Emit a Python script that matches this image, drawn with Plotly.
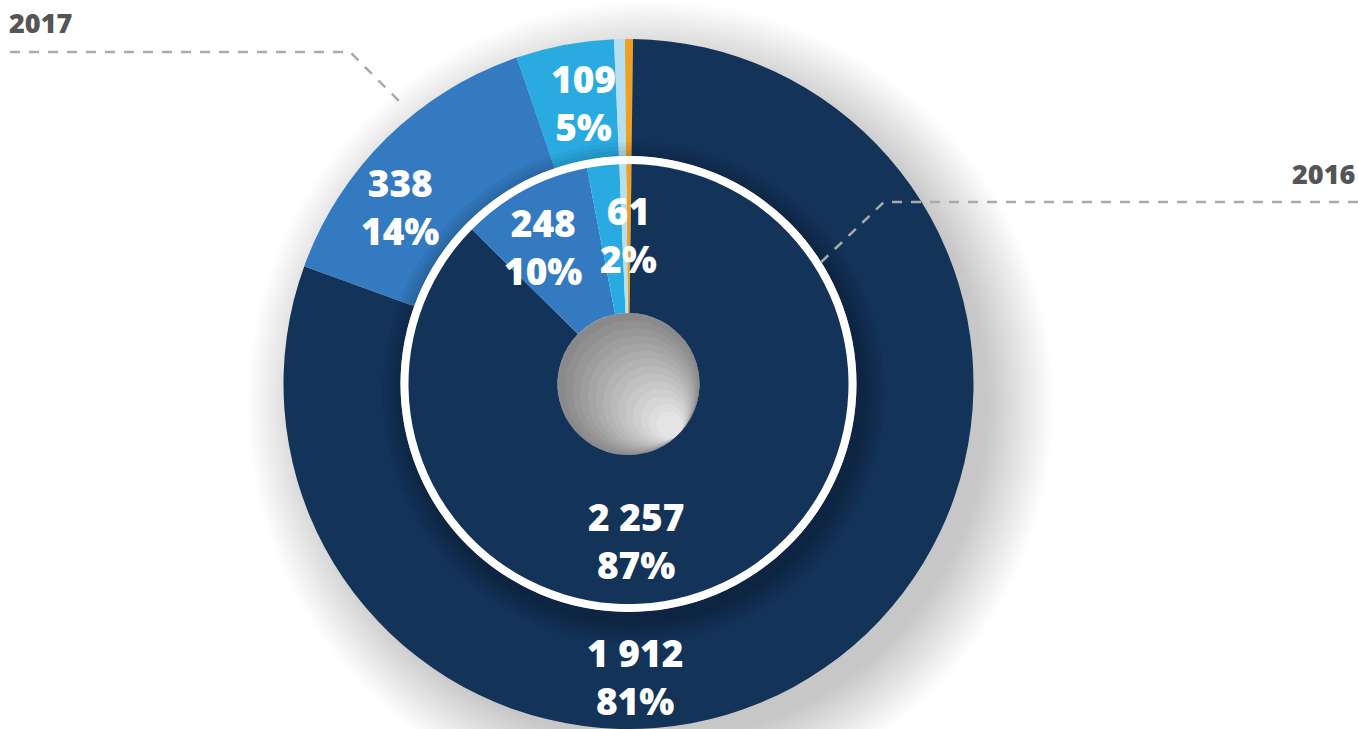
import plotly.graph_objects as go

W, H = 1358, 729

# ---- data ----
categories = ["Cat E (orange)", "Cat A", "Cat B", "Cat C", "Cat D (pale)"]
values_2017 = [9, 1912, 338, 109, 12]
values_2016 = [10, 2257, 248, 61, 13]
labels_2017 = ["", "1 912<br>81%", "338<br>14%", "109<br>5%", ""]
labels_2016 = ["", "2 257<br>87%", "248<br>10%", "61<br>2%", ""]
year_labels = ["2017", "2016"]

colors = ["#EEA023", "#133359", "#337AC0", "#29ABE2", "#B5E0F2"]

# ---- geometry (pixels) ----
CX, CY = 628.5, 384.0
R_OUT = 345.0
R_RING = 228.0
R_IN = 220.0
R_HOLE = 71.0


def dom(cx, cy, r):
    return dict(x=[(cx - r) / W, (cx + r) / W],
                y=[max(0.0, 1 - (cy + r) / H), min(1.0, 1 - (cy - r) / H)])


def circ(cx, cy, r, fill, layer="below"):
    return dict(type="circle", xref="paper", yref="paper",
                x0=(cx - r) / W, x1=(cx + r) / W,
                y0=1 - (cy + r) / H, y1=1 - (cy - r) / H,
                fillcolor=fill, line=dict(width=0), layer=layer)


fig = go.Figure()

# outer ring (2017)
fig.add_trace(go.Pie(
    values=values_2017, labels=categories, sort=False, direction="clockwise",
    rotation=-0.6, hole=R_RING / R_OUT, domain=dom(CX, CY, R_OUT),
    marker=dict(colors=colors, line=dict(width=0)),
    textinfo="none", hoverinfo="label+value", showlegend=False, name="2017"))

# soft shadow of the inner disc onto the outer ring
for k in range(6):
    r = R_RING + 3 + 4 * k
    fig.add_trace(go.Pie(
        values=[1], labels=["shadow"], sort=False, hole=(R_RING - 12) / r,
        domain=dom(CX + 5, CY + 9, r),
        marker=dict(colors=["rgba(0,0,0,0.045)"], line=dict(width=0)),
        textinfo="none", hoverinfo="skip", showlegend=False))

# white separating ring
fig.add_trace(go.Pie(
    values=[1], labels=["ring"], sort=False, hole=(R_IN - 2) / R_RING,
    domain=dom(CX, CY, R_RING),
    marker=dict(colors=["#FFFFFF"], line=dict(width=0)),
    textinfo="none", hoverinfo="skip", showlegend=False))

# inner ring (2016)
fig.add_trace(go.Pie(
    values=values_2016, labels=categories, sort=False, direction="clockwise",
    rotation=-0.6, hole=R_HOLE / R_IN, domain=dom(CX, CY, R_IN),
    marker=dict(colors=colors, line=dict(width=0)),
    textinfo="none", hoverinfo="label+value", showlegend=False, name="2016"))

shapes = []
# drop shadow of the whole donut
n_sh = 28
for k in range(n_sh):
    r = R_OUT + 58 - 2.4 * k
    shapes.append(circ(CX + 22, CY + 20, r, "rgba(0,0,0,0.0085)"))
# white disc under the inner part
shapes.append(circ(CX, CY, R_RING, "#FFFFFF"))
# grey gradient in the hole
n = 14
for k in range(n):
    r = R_HOLE * (1 - k / (n + 2))
    off = (R_HOLE - r) * 0.7071
    g = int(0x8A + (0xE4 - 0x8A) * k / (n - 1))
    shapes.append(circ(CX + off, CY + off, r, f"rgb({g},{g},{g})"))

# leader lines
lead = dict(color="#AAAAAA", width=2.5, dash="10px,9px")
shapes.append(dict(type="path", xref="paper", yref="paper",
                   path=f"M {10/W},{1-52/H} L {350/W},{1-52/H} L {405/W},{1-107/H}",
                   line=lead))
shapes.append(dict(type="path", xref="paper", yref="paper",
                   path=f"M {1358/W},{1-202/H} L {884/W},{1-202/H} L {815/W},{1-268/H}",
                   line=lead))

lab_font = dict(family="Open Sans", size=37, color="#FFFFFF", weight=800)
annotations = []
pos_2017 = [None, (635, 676), (400, 207), (583, 103), None]
pos_2016 = [None, (636, 540), (543, 247), (628, 234), None]
for labs, poss in ((labels_2017, pos_2017), (labels_2016, pos_2016)):
    for t, p in zip(labs, poss):
        if p is None or not t:
            continue
        annotations.append(dict(text=t, x=p[0] / W, y=1 - p[1] / H, xref="paper", yref="paper",
                                showarrow=False, xanchor="center", yanchor="middle",
                                font=lab_font, align="center"))

yr_font = dict(family="Open Sans", size=27, color="#555555", weight=800)
annotations.append(dict(text=year_labels[0], x=7 / W, y=1 - 22 / H, xref="paper", yref="paper",
                        showarrow=False, xanchor="left", yanchor="middle", font=yr_font))
annotations.append(dict(text=year_labels[1], x=1357 / W, y=1 - 173 / H, xref="paper", yref="paper",
                        showarrow=False, xanchor="right", yanchor="middle", font=yr_font))

fig.update_layout(width=W, height=H, margin=dict(l=0, r=0, t=0, b=0),
                  paper_bgcolor="#FFFFFF", plot_bgcolor="#FFFFFF",
                  shapes=shapes, annotations=annotations, showlegend=False)

fig.write_html("out.html", config={"displayModeBar": False},
               post_script="document.body.style.margin='0';document.body.style.overflow='hidden';")
